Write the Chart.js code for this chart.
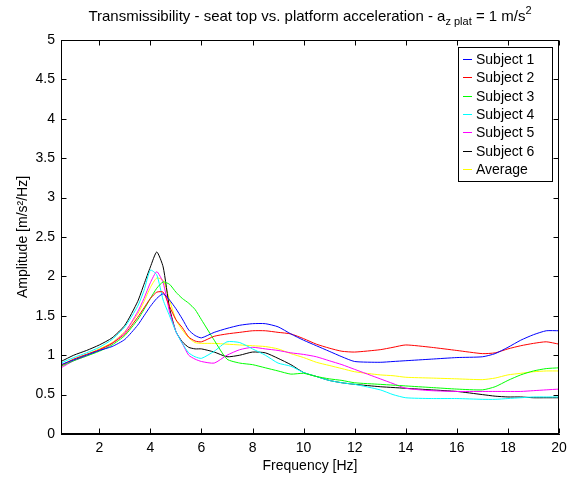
<!DOCTYPE html>
<html>
<head>
<meta charset="utf-8">
<title>Transmissibility - seat top vs. platform acceleration</title>
<script src="https://cdn.jsdelivr.net/npm/chart.js@4.4.1/dist/chart.umd.min.js"></script>
<style>
  html, body { margin: 0; padding: 0; background: #fff; }
  #wrap { width: 578px; height: 480px; }
</style>
</head>
<body>
<div id="wrap"><canvas id="tf" width="578" height="480"></canvas></div>
<script>
// frequency axis [Hz]
const freqs = [0.5, 1, 1.5, 2, 2.5, 3, 3.5, 3.75, 4, 4.25, 4.5, 4.75, 5, 5.25, 5.5, 5.75, 6, 6.5, 7, 7.5,
               8, 8.5, 9, 9.5, 10, 10.5, 11, 11.5, 12, 13, 13.5, 14, 15, 16, 17, 17.5, 18, 18.5, 19, 19.5, 20];

// amplitudes
const subject1 = [0.88, 0.94, 1.00, 1.06, 1.11, 1.20, 1.38, 1.50, 1.62, 1.72, 1.78, 1.70, 1.59, 1.46, 1.32, 1.25, 1.22, 1.29, 1.34, 1.38,
                  1.40, 1.40, 1.36, 1.27, 1.19, 1.12, 1.05, 0.98, 0.92, 0.91, 0.92, 0.93, 0.95, 0.97, 0.98, 1.02, 1.10, 1.19, 1.26, 1.31, 1.31];
const subject2 = [0.87, 0.95, 1.01, 1.07, 1.15, 1.27, 1.48, 1.60, 1.72, 1.80, 1.80, 1.62, 1.45, 1.35, 1.23, 1.18, 1.17, 1.24, 1.27, 1.29,
                  1.31, 1.31, 1.29, 1.27, 1.21, 1.14, 1.09, 1.05, 1.04, 1.07, 1.10, 1.13, 1.10, 1.06, 1.02, 1.03, 1.08, 1.12, 1.15, 1.17, 1.14];
const subject3 = [0.86, 0.93, 0.99, 1.05, 1.13, 1.25, 1.45, 1.58, 1.72, 1.85, 1.93, 1.90, 1.80, 1.72, 1.66, 1.58, 1.45, 1.19, 0.95, 0.90,
                  0.88, 0.84, 0.80, 0.76, 0.77, 0.73, 0.70, 0.68, 0.65, 0.63, 0.62, 0.61, 0.59, 0.57, 0.56, 0.60, 0.68, 0.75, 0.80, 0.83, 0.84];
const subject4 = [0.90, 0.97, 1.03, 1.10, 1.20, 1.36, 1.62, 1.82, 2.08, 2.02, 1.70, 1.50, 1.30, 1.15, 1.03, 0.98, 0.96, 1.05, 1.17, 1.16,
                  1.08, 1.00, 0.90, 0.86, 0.78, 0.73, 0.68, 0.65, 0.63, 0.56, 0.50, 0.46, 0.45, 0.45, 0.44, 0.44, 0.45, 0.46, 0.47, 0.47, 0.47];
const subject5 = [0.84, 0.93, 0.99, 1.06, 1.15, 1.29, 1.55, 1.72, 1.92, 2.06, 1.92, 1.55, 1.30, 1.15, 1.00, 0.95, 0.92, 0.90, 1.00, 1.07,
                  1.10, 1.08, 1.06, 1.03, 1.01, 0.98, 0.93, 0.88, 0.82, 0.70, 0.64, 0.58, 0.55, 0.54, 0.54, 0.54, 0.54, 0.54, 0.55, 0.56, 0.57];
const subject6 = [0.92, 1.00, 1.06, 1.13, 1.22, 1.38, 1.68, 1.90, 2.12, 2.31, 2.12, 1.60, 1.30, 1.17, 1.10, 1.08, 1.08, 1.04, 0.98, 1.00,
                  1.04, 1.03, 0.96, 0.88, 0.78, 0.73, 0.68, 0.65, 0.63, 0.60, 0.59, 0.58, 0.56, 0.54, 0.50, 0.48, 0.47, 0.47, 0.46, 0.46, 0.46];
const average  = [0.87, 0.95, 1.01, 1.08, 1.16, 1.30, 1.52, 1.68, 1.86, 1.98, 1.95, 1.70, 1.45, 1.32, 1.22, 1.16, 1.15, 1.15, 1.14, 1.13,
                  1.12, 1.11, 1.08, 1.02, 0.97, 0.91, 0.87, 0.83, 0.79, 0.75, 0.74, 0.72, 0.71, 0.70, 0.69, 0.71, 0.75, 0.77, 0.79, 0.80, 0.80];

const seriesNames = ['Subject 1', 'Subject 2', 'Subject 3', 'Subject 4', 'Subject 5', 'Subject 6', 'Average'];
const seriesData  = [subject1, subject2, subject3, subject4, subject5, subject6, average];

const xTickVals = [2, 4, 6, 8, 10, 12, 14, 16, 18, 20];
const yTickVals = [0, 0.5, 1, 1.5, 2, 2.5, 3, 3.5, 4, 4.5, 5];

const lineColors = ['#0000ff', '#ff0000', '#00ff00', '#00ffff', '#ff00ff', '#000000', '#ffff00'];
const FONT = "'Liberation Sans', Arial, Helvetica, sans-serif";
const FS = 14;

// matlab-ish box, inward ticks, titles and legend
const matlabAxes = {
    id: 'matlabAxes',
    afterDraw(chart) {
        const ctx = chart.ctx;
        const a = chart.chartArea;
        const xs = chart.scales.x, ys = chart.scales.y;
        const L = Math.round(a.left) + 0.5, R = Math.round(a.right) - 0.5;
        const T = Math.round(a.top) + 0.5, B = Math.round(a.bottom) - 0.5;
        ctx.save();
        ctx.strokeStyle = '#000';
        ctx.lineWidth = 1;
        ctx.strokeRect(L, T, R - L, B - T);

        const tl = 5;
        ctx.beginPath();
        xs.ticks.forEach(function (t) {
            const px = Math.round(xs.getPixelForValue(t.value)) + 0.5;
            ctx.moveTo(px, B); ctx.lineTo(px, B - tl);
            ctx.moveTo(px, T); ctx.lineTo(px, T + tl);
        });
        ys.ticks.forEach(function (t) {
            const py = Math.round(ys.getPixelForValue(t.value)) + 0.5;
            ctx.moveTo(L, py); ctx.lineTo(L + tl, py);
            ctx.moveTo(R, py); ctx.lineTo(R - tl, py);
        });
        ctx.stroke();

        // title with sub/superscript
        ctx.fillStyle = '#000';
        ctx.textBaseline = 'alphabetic';
        const parts = [
            { t: 'Transmissibility - seat top vs. platform acceleration - a', size: 15, dy: 0 },
            { t: 'z plat', size: 11, dy: 4 },
            { t: ' = 1 m/s', size: 15, dy: 0 },
            { t: '2', size: 11, dy: -7 }
        ];
        let total = 0;
        parts.forEach(function (p) { ctx.font = p.size + 'px ' + FONT; p.w = ctx.measureText(p.t).width; total += p.w; });
        let x = (a.left + a.right) / 2 - total / 2;
        const base = 21;
        parts.forEach(function (p) {
            ctx.font = p.size + 'px ' + FONT;
            ctx.textAlign = 'left';
            ctx.fillText(p.t, x, base + p.dy);
            x += p.w;
        });

        // axis labels
        ctx.font = FS + 'px ' + FONT;
        ctx.textAlign = 'center';
        ctx.fillText('Frequency [Hz]', (a.left + a.right) / 2, 470);
        ctx.save();
        ctx.translate(27, (a.top + a.bottom) / 2);
        ctx.rotate(-Math.PI / 2);
        ctx.fillText('Amplitude [m/s\u00b2/Hz]', 0, 0);
        ctx.restore();

        // legend box
        const lx = 458, ly = 47, lw = 94, lh = 134, rowH = 18.3;
        ctx.fillStyle = '#fff';
        ctx.fillRect(lx, ly, lw, lh);
        ctx.strokeStyle = '#000';
        ctx.strokeRect(lx + 0.5, ly + 0.5, lw, lh);
        ctx.font = FS + 'px ' + FONT;
        ctx.textAlign = 'left';
        ctx.textBaseline = 'middle';
        chart.data.datasets.forEach(function (ds, i) {
            const cy = Math.round(ly + 12 + i * rowH) + 0.5;
            ctx.strokeStyle = ds.borderColor;
            ctx.beginPath();
            ctx.moveTo(lx + 5, cy); ctx.lineTo(lx + 14, cy);
            ctx.stroke();
            ctx.fillStyle = '#000';
            ctx.fillText(ds.label, lx + 18, cy + 1);
        });
        ctx.restore();
    }
};

const datasets = seriesData.map(function (vals, i) {
    return {
        label: seriesNames[i],
        data: freqs.map(function (f, j) { return { x: f, y: vals[j] }; }),
        borderColor: lineColors[i],
        backgroundColor: lineColors[i],
        borderWidth: 1,
        pointRadius: 0,
        tension: 0.2,
        fill: false
    };
});

new Chart(document.getElementById('tf'), {
    type: 'line',
    data: { datasets: datasets },
    options: {
        responsive: false,
        animation: false,
        events: [],
        layout: { padding: { left: 0, top: 40, right: 19, bottom: 0 } },
        plugins: { legend: { display: false }, title: { display: false }, tooltip: { enabled: false } },
        scales: {
            x: {
                type: 'linear',
                min: 0.5,
                max: 20,
                afterBuildTicks: function (s) { s.ticks = xTickVals.map(function (v) { return { value: v }; }); },
                afterFit: function (s) { s.height = 46; },
                grid: { display: false, drawTicks: false },
                border: { display: true, color: '#000' },
                ticks: { color: '#000', padding: 6, maxRotation: 0, autoSkip: false, font: { family: FONT, size: FS },
                         callback: function (v) { return String(v); } }
            },
            y: {
                type: 'linear',
                min: 0,
                max: 5,
                afterBuildTicks: function (s) { s.ticks = yTickVals.map(function (v) { return { value: v }; }); },
                afterFit: function (s) { s.width = 61; },
                grid: { display: false, drawTicks: false },
                border: { display: true, color: '#000' },
                ticks: { color: '#000', padding: 6, autoSkip: false, font: { family: FONT, size: FS },
                         callback: function (v) { return String(v); } }
            }
        }
    },
    plugins: [matlabAxes]
});
</script>
</body>
</html>
